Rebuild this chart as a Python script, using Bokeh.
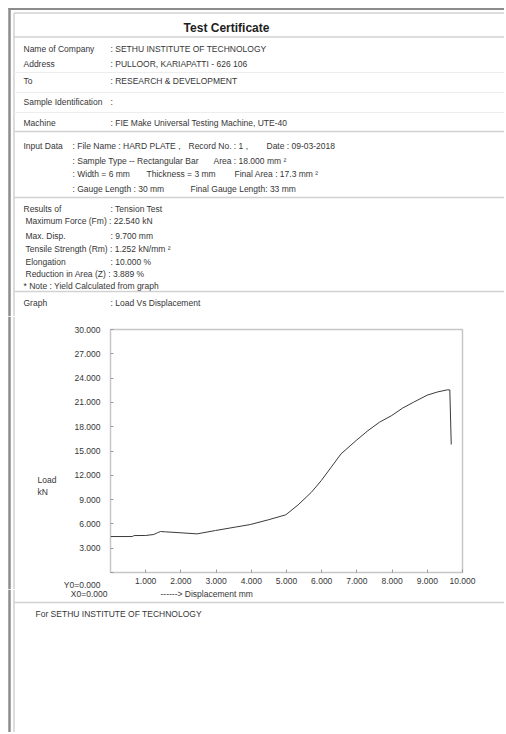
from bokeh.plotting import figure
from bokeh.models import Range1d, FixedTicker
from bokeh.layouts import row, column
from bokeh.embed import file_html
from bokeh.resources import INLINE
from bokeh.core.properties import value

# ---------------- data ----------------
disp = [0.00, 0.62, 0.67, 1.00, 1.23, 1.33, 1.42, 1.56, 2.00, 2.46, 2.98, 3.54, 3.97,
        4.48, 4.98, 5.33, 5.71, 5.99, 6.27, 6.55, 6.98, 7.31, 7.64, 7.99, 8.30, 8.60,
        9.00, 9.30, 9.57, 9.64, 9.68]
load = [4.44, 4.44, 4.56, 4.57, 4.69, 4.90, 5.06, 5.02, 4.90, 4.77, 5.18, 5.60, 5.92,
        6.50, 7.12, 8.35, 9.92, 11.36, 13.00, 14.65, 16.30, 17.50, 18.55, 19.38, 20.30,
        21.00, 21.90, 22.30, 22.55, 22.54, 15.80]
x_ticks = [1, 2, 3, 4, 5, 6, 7, 8, 9, 10]
x_tick_labels = ["1.000", "2.000", "3.000", "4.000", "5.000", "6.000", "7.000",
                 "8.000", "9.000", "10.000"]
y_ticks = [0, 3, 6, 9, 12, 15, 18, 21, 24, 27, 30]
y_tick_labels = ["\n\nY0=0.000", "3.000", "6.000", "9.000", "12.000", "15.000",
                 "18.000", "21.000", "24.000", "27.000", "30.000"]
y_title = ["Load", "kN"]
x_origin_text = "X0=0.000"
x_title = "------>  Displacement  mm"

title_text = "Test Certificate"
header_rows = [
    (23, 48, "Name of Company"), (110, 48, ": SETHU INSTITUTE OF TECHNOLOGY"),
    (23, 63, "Address"), (110, 63, ": PULLOOR, KARIAPATTI - 626 106"),
    (23, 80, "To"), (110, 80, ": RESEARCH & DEVELOPMENT"),
    (23, 101, "Sample Identification"), (110, 101, ":"),
    (23, 122, "Machine"), (110, 122, ": FIE Make Universal Testing Machine, UTE-40"),
    (23, 145, "Input Data"), (72, 145, ": File Name : HARD PLATE ,"),
    (188, 145, "Record No. :  1 ,"), (266, 145, "Date : 09-03-2018"),
    (72, 160, ": Sample Type -- Rectangular Bar"), (213, 160, "Area : 18.000 mm \u00b2"),
    (72, 173, ": Width =  6 mm"), (146, 173, "Thickness =  3 mm"),
    (234, 173, "Final Area : 17.3 mm \u00b2"),
    (72, 188, ": Gauge Length :  30 mm"), (190, 188, "Final Gauge Length:  33 mm"),
    (23, 208, "Results of"), (110, 208, ": Tension Test"),
    (25, 220, "Maximum Force (Fm) : 22.540  kN"),
    (25, 235, "Max. Disp."), (110, 235, ": 9.700  mm"),
    (25, 248, "Tensile Strength (Rm) : 1.252  kN/mm \u00b2"),
    (25, 261, "Elongation"), (110, 261, ": 10.000  %"),
    (25, 273, "Reduction in Area (Z) : 3.889  %"),
    (23, 285, "* Note : Yield Calculated from graph"),
    (23, 302, "Graph"), (110, 302, ":  Load Vs Displacement"),
]
footer_text = "For  SETHU INSTITUTE OF TECHNOLOGY"

FONT = "Liberation Sans"
FS = "8.5px"
TXT = "#363636"
DARK = "#8c8c8c"
LIGHT = "#d2d2d2"
FAINT = "#ededed"

PAGE_L, PAGE_R = 0, 504
TOP, BOTTOM = 0, 732
HDR_B = 316
CH_B = 589
CH_L = 60


def doc_fig(x0, x1, y0, y1):
    f = figure(width=x1 - x0, height=y1 - y0, x_range=Range1d(x0, x1),
               y_range=Range1d(y1, y0), x_axis_type=None, y_axis_type=None,
               output_backend="svg", toolbar_location=None, min_border=0)
    f.outline_line_color = None
    f.background_fill_color = "white"
    f.border_fill_color = "white"
    f.frame_align = False
    return f


def side_borders(f, y0, y1, top=False):
    ya = 7.5 if top else y0
    yb = 12.5 if top else y0
    f.segment(x0=[9, 13.5], y0=[ya, yb], x1=[9, 13.5], y1=[y1, y1],
              line_color=[DARK, LIGHT], line_width=[2.5, 1.5])


# ---------------- header ----------------
header = doc_fig(PAGE_L, PAGE_R, TOP, HDR_B)
side_borders(header, TOP, HDR_B, top=True)
header.segment(x0=[8, 13.5], y0=[8.5, 12.5], x1=[PAGE_R, PAGE_R], y1=[8.5, 12.5],
               line_color=[DARK, LIGHT], line_width=[2, 1.5])
sep_y = [36.5, 131, 197, 291]
header.segment(x0=[13.5] * len(sep_y), y0=sep_y, x1=[PAGE_R] * len(sep_y), y1=sep_y,
               line_color=LIGHT, line_width=1.5)
faint_y = [72, 92, 112]
header.segment(x0=[13.5] * len(faint_y), y0=faint_y, x1=[PAGE_R] * len(faint_y),
               y1=faint_y, line_color=FAINT, line_width=1)
header.text(x=[226], y=[27], text=[title_text], text_font=value(FONT),
            text_font_size=value("12px"), text_font_style="bold", text_align="center",
            text_baseline="middle", text_color="#1e1e1e")
header.text(x=[r[0] for r in header_rows], y=[r[1] for r in header_rows],
            text=[r[2] for r in header_rows], text_font=value(FONT),
            text_font_size=value(FS), text_baseline="middle", text_color=TXT)

# ---------------- chart left strip ----------------
chart_left = doc_fig(PAGE_L, CH_L, HDR_B, CH_B)
side_borders(chart_left, HDR_B, CH_B)
chart_left.text(x=[37, 37], y=[479, 491], text=y_title, text_font=value(FONT),
                text_font_size=value(FS), text_baseline="middle", text_color=TXT)

# ---------------- chart ----------------
chart = figure(width=PAGE_R - CH_L, height=CH_B - HDR_B,
               x_range=Range1d(0, 10), y_range=Range1d(0, 30),
               output_backend="svg", toolbar_location=None,
               min_border_left=108 - CH_L, min_border_right=PAGE_R - 462,
               min_border_top=329 - HDR_B, min_border_bottom=CH_B - 572)
chart.frame_align = False
chart.grid.visible = False
chart.outline_line_color = "#c6c6c6"
chart.outline_line_width = 1.5
chart.background_fill_color = "white"
chart.border_fill_color = "white"

chart.xaxis.ticker = FixedTicker(ticks=x_ticks)
chart.xaxis.major_label_overrides = dict(zip(x_ticks, x_tick_labels))
chart.xaxis.major_label_standoff = 5
chart.yaxis.ticker = FixedTicker(ticks=y_ticks)
chart.yaxis.major_label_overrides = dict(zip(y_ticks, y_tick_labels))
chart.yaxis.major_label_standoff = 10
for ax in (chart.xaxis, chart.yaxis):
    ax.axis_line_color = None
    ax.major_tick_in = 3
    ax.major_tick_out = 0
    ax.major_tick_line_color = "#9a9a9a"
    ax.minor_tick_line_color = None
    ax.major_label_text_font = FONT
    ax.major_label_text_font_size = FS
    ax.major_label_text_color = TXT

chart.line(disp, load, line_color="#3a3a3a", line_width=1)

# ---------------- footer ----------------
footer = doc_fig(PAGE_L, PAGE_R, CH_B, BOTTOM)
side_borders(footer, CH_B, BOTTOM)
footer.segment(x0=[13.5], y0=[602], x1=[PAGE_R], y1=[602], line_color=LIGHT,
               line_width=1.5)
footer.text(x=[107], y=[593], text=[x_origin_text], text_font=value(FONT),
            text_font_size=value(FS), text_align="right", text_baseline="middle",
            text_color=TXT)
footer.text(x=[160], y=[593], text=[x_title], text_font=value(FONT),
            text_font_size=value(FS), text_baseline="middle", text_color=TXT)
footer.text(x=[35], y=[613], text=[footer_text], text_font=value(FONT),
            text_font_size=value(FS), text_baseline="middle", text_color=TXT)

layout = column(header, row(chart_left, chart, spacing=0), footer, spacing=0)

open("out.html", "w").write(file_html(layout, INLINE))
